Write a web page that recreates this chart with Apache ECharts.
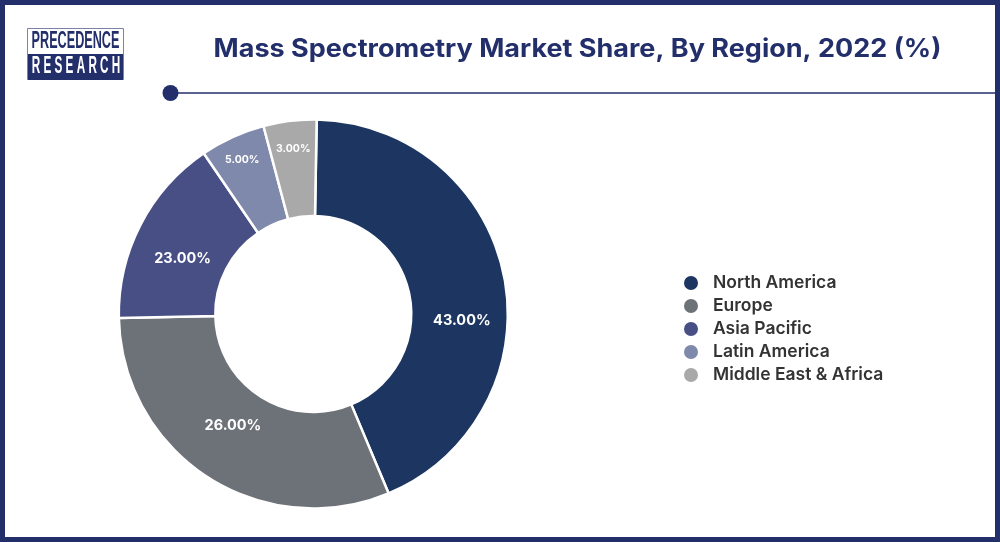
<!DOCTYPE html>
<html>
<head>
<meta charset="utf-8">
<title>Mass Spectrometry Market Share</title>
<script src="https://cdn.jsdelivr.net/npm/echarts@6/dist/echarts.min.js"></script>
<style>
    html, body {margin: 0; padding: 0; background: #fff;}
    #chart {width: 1000px; height: 542px;}
</style>
</head>
<body>
<div id="chart"></div>
<script>
const regions = ['North America', 'Europe', 'Asia Pacific', 'Latin America', 'Middle East & Africa'];
// the slices in the picture are not drawn to the printed percentages, so both are kept
const sliceShares = [43.4, 31, 15.8, 5.4, 4.4];
const shareLabels = ['43.00%', '26.00%', '23.00%', '5.00%', '3.00%'];
const regionColors = ['#1c3661', '#6d7178', '#474f85', '#7f89ab', '#a9a9a9'];
// the labels do not sit in the middle of their slices
const labelOffsets = [[2, 35], [1, -13], [2, 13], [-9, -18], [-2, -17]];

const navy = '#232f6b';
const font = 'Inter, "Noto Sans", sans-serif';
const logoFont = '700 23px "Liberation Sans", sans-serif';

const chart = echarts.init(document.getElementById('chart'));

const sliceData = regions.map((name, i) => {
    return {
        name: name,
        value: sliceShares[i],
        itemStyle: {color: regionColors[i]},
        label: {
            formatter: shareLabels[i],
            fontSize: i > 2 ? 10.5 : 14.5,
            offset: labelOffsets[i]
        }
    };
});

chart.setOption({
    animation: false,
    legend: {
        orient: 'vertical',
        left: 682,
        top: 274,
        padding: 0,
        icon: 'circle',
        itemWidth: 16,
        itemHeight: 16,
        itemGap: 5,
        data: regions,
        textStyle: {color: '#333', fontFamily: font, fontWeight: 600, fontSize: 17.5, lineHeight: 16, padding: [0, 0, 0, 9]}
    },
    series: [
        {
            type: 'pie',
            center: [313.3, 314],
            radius: [98, 194.5],
            startAngle: 89,
            clockwise: true,
            data: sliceData,
            itemStyle: {borderColor: '#fff', borderWidth: 2.5},
            label: {
                show: true,
                position: 'inside',
                color: '#fff',
                fontFamily: font,
                fontWeight: 700
            },
            labelLine: {show: false},
            emphasis: {disabled: true}
        }
    ],
    graphic: [
        {type: 'rect', shape: {x: 2.5, y: 2.5, width: 995, height: 537}, style: {fill: 'none', stroke: navy, lineWidth: 5}},
        {type: 'line', shape: {x1: 170, y1: 93, x2: 996, y2: 93}, style: {stroke: navy, lineWidth: 1.5}},
        {type: 'circle', shape: {cx: 170.5, cy: 93, r: 8}, style: {fill: navy}},
        {
            type: 'text', x: 577.5, y: 49, scaleX: 1.08,
            style: {
                text: 'Mass Spectrometry Market Share, By Region, 2022 (%)',
                fill: navy, align: 'center', verticalAlign: 'middle',
                font: '700 25px Inter, "Noto Sans", sans-serif'
            }
        },
        {type: 'rect', shape: {x: 27.5, y: 28.5, width: 96, height: 51}, style: {fill: '#fff', stroke: '#7c82a6', lineWidth: 1}},
        {type: 'rect', shape: {x: 28, y: 54, width: 95, height: 26}, style: {fill: navy}},
        {
            type: 'text', x: 75.5, y: 42, scaleX: 0.55,
            style: {text: 'PRECEDENCE', fill: navy, align: 'center', verticalAlign: 'middle', font: logoFont}
        },
        {
            type: 'text', x: 76, y: 67, scaleX: 0.51,
            style: {text: 'R E S E A R C H', fill: '#fff', align: 'center', verticalAlign: 'middle', font: logoFont}
        }
    ]
});
</script>
</body>
</html>
